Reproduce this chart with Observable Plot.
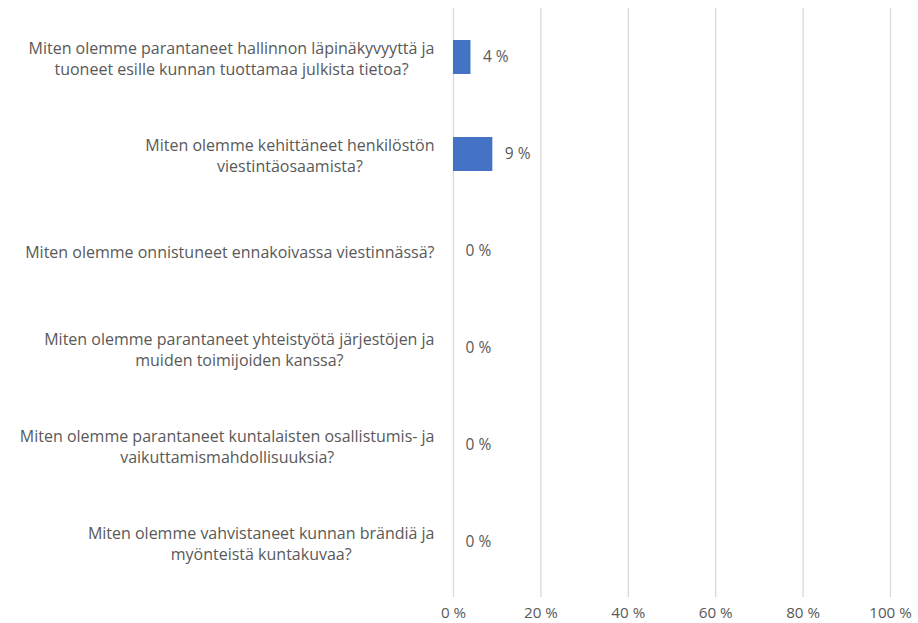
<!DOCTYPE html>
<html>
<head>
<meta charset="utf-8">
<script src="https://cdn.jsdelivr.net/npm/d3@7"></script>
<script src="https://cdn.jsdelivr.net/npm/@observablehq/plot@0.6"></script>
<style>
  html, body { margin: 0; padding: 0; background: #fff; }
  #chart { width: 918px; height: 623px; }
</style>
</head>
<body>
<div id="chart"></div>
<script>
const categories = [
  "Miten olemme parantaneet hallinnon läpinäkyvyyttä ja\ntuoneet esille kunnan tuottamaa julkista tietoa?",
  "Miten olemme kehittäneet henkilöstön\nviestintäosaamista?",
  "Miten olemme onnistuneet ennakoivassa viestinnässä?",
  "Miten olemme parantaneet yhteistyötä järjestöjen ja\nmuiden toimijoiden kanssa?",
  "Miten olemme parantaneet kuntalaisten osallistumis- ja\nvaikuttamismahdollisuuksia?",
  "Miten olemme vahvistaneet kunnan brändiä ja\nmyönteistä kuntakuvaa?"
];
const values = [4, 9, 0, 0, 0, 0];
const xTicks = [0, 20, 40, 60, 80, 100];

const data = categories.map((c, i) => ({ category: c, value: values[i] }));
const textColor = "#595959";
const font = "'Open Sans', sans-serif";

const chart = Plot.plot({
  width: 918,
  height: 623,
  marginLeft: 453,
  marginRight: 28,
  marginTop: 8,
  marginBottom: 33,
  style: { fontFamily: font, fontSize: "15px", color: textColor, background: "#fff" },
  x: { domain: [0, 100], ticks: xTicks, tickFormat: d => d + " %", label: null },
  y: { domain: categories, paddingInner: 0.65, paddingOuter: 0.325, label: null, axis: null },
  marks: [
    Plot.ruleX(xTicks, { stroke: "#d9d9d9", strokeWidth: 1.3, insetBottom: -7 }),
    Plot.barX(data, { y: "category", x: "value", fill: "#4472C4" }),
    Plot.text(data, {
      y: "category", x: "value", text: d => d.value + " %",
      dx: 12, textAnchor: "start", fill: textColor, fontSize: 15.5
    }),
    Plot.text(data, {
      y: "category", x: 0, text: "category", frameAnchor: "left",
      textAnchor: "middle", dx: -19, lineHeight: 1.3, fill: textColor, fontSize: 16,
      className: "cat-label"
    }),
    Plot.axisX({ ticks: xTicks, tickFormat: d => d + " %", tickSize: 0, tickPadding: 17, fill: textColor, fontSize: 15.2, label: null })
  ]
});
document.getElementById("chart").appendChild(chart);

// center lines within each label block, right-aligned block
chart.querySelectorAll("g.cat-label text").forEach(t => {
  const w = t.getBBox().width;
  const tr = t.getAttribute("transform") || "";
  t.setAttribute("transform", tr + ` translate(${-w / 2},0)`);
});
</script>
</body>
</html>
